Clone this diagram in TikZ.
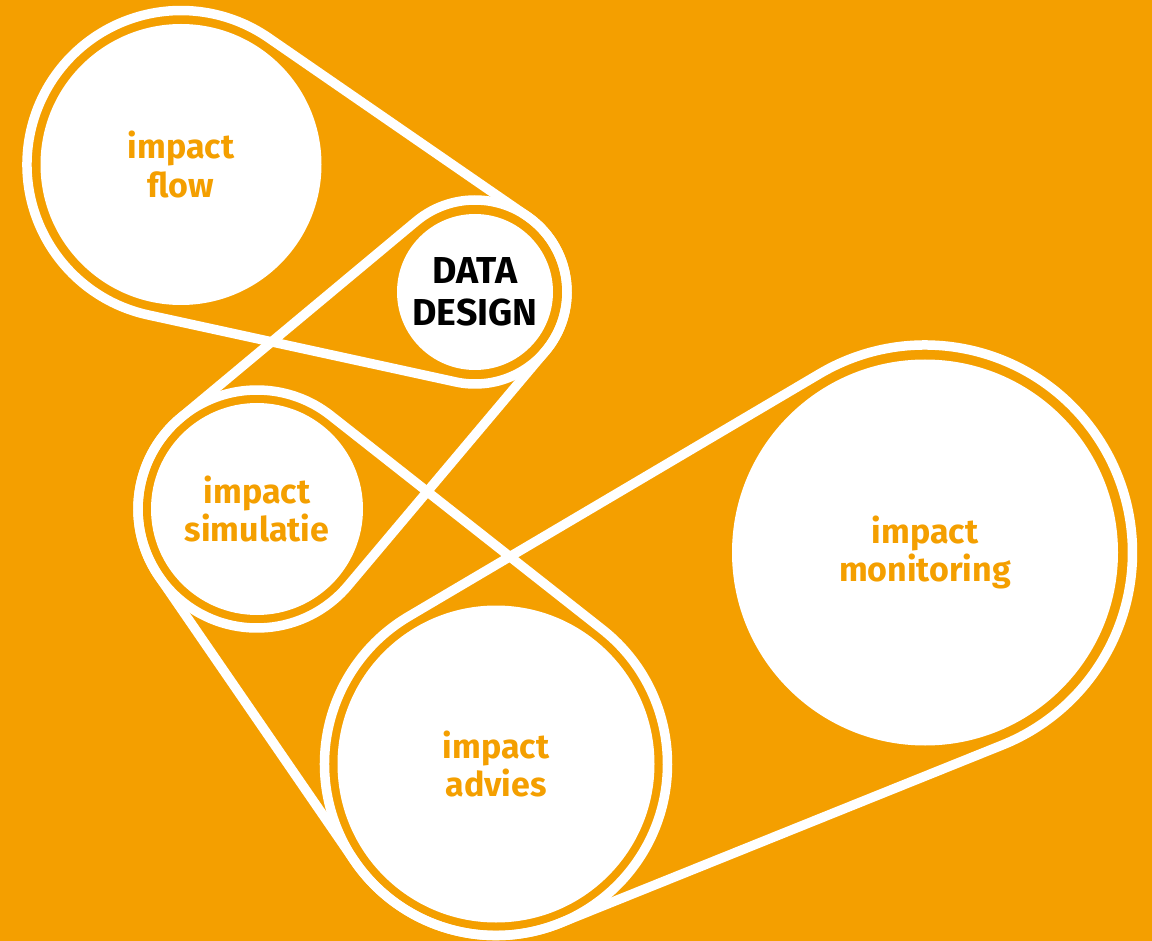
\documentclass[tikz,border=0pt]{standalone}
\usepackage{fontspec}
\setmainfont{Fira Sans}
\usetikzlibrary{calc}
\definecolor{bg}{RGB}{244,159,0}

\begin{document}
\begin{tikzpicture}[
  x=1pt, y=-1pt,
  belt/.style={draw=white, line width=9.5pt},
  disc/.style={circle, fill=white, inner sep=0pt, align=center, text=bg,
    font=\bfseries\fontsize{34}{38.5}\selectfont}
  ]
\useasboundingbox (0,0) rectangle (1152,941);
\fill [bg] (0,0) rectangle (1152,941);
%\draw [ultra thin, lightgray] (0,0) grid[step=50] (1152,941);
\node [disc, minimum size=281pt] (flow) at (181,164.5) {impact\\flow};
\node [disc, minimum size=156pt, text=black,
  font=\bfseries\fontsize{37.5}{41.7}\selectfont] (design) at (475,292) {DATA\\DESIGN};
\node [disc, minimum size=212pt] (simulatie) at (257,509) {impact\\simulatie};
\node [disc, minimum size=317pt] (advies) at (496,764) {impact\\advies};
\node [disc, minimum size=386pt] (monitoring) at (925,552.5) {impact\\monitoring};
% flow - design
\draw [belt] ($(flow.center)+(102.3:154)$) arc[start angle=102.3, end angle=304.6, radius=154]
  -- ($(design.center)+(-55.4:92)$) arc[start angle=-55.4, end angle=102.3, radius=92] -- cycle;
% design - simulatie
\draw [belt] ($(design.center)+(230.17:92)$) arc[start angle=230.17, end angle=400.09, radius=92]
  -- ($(simulatie.center)+(40.09:119)$) arc[start angle=40.09, end angle=230.17, radius=119] -- cycle;
% simulatie - advies
\draw [belt] ($(simulatie.center)+(145.5:119)$) arc[start angle=145.5, end angle=308.22, radius=119]
  -- ($(advies.center)+(-51.78:171.5)$) arc[start angle=-51.78, end angle=145.5, radius=171.5] -- cycle;
% advies - monitoring
\draw [belt] ($(advies.center)+(68.08:171.5)$) arc[start angle=68.08, end angle=239.44, radius=171.5]
  -- ($(monitoring.center)+(239.44:207.5)$) arc[start angle=239.44, end angle=428.08, radius=207.5] -- cycle;
\end{tikzpicture}
\end{document}
